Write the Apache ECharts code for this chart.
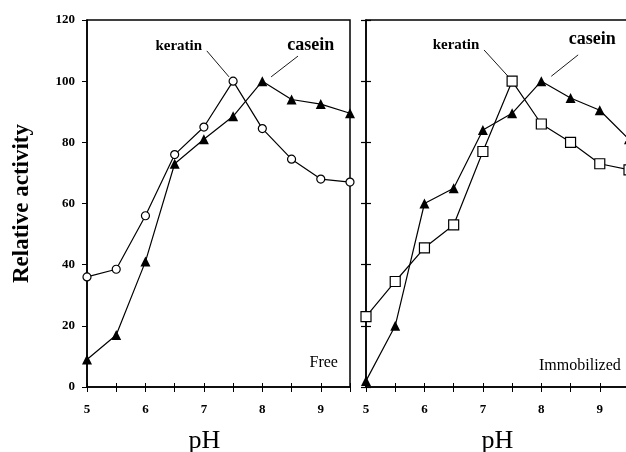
<!DOCTYPE html>
<html>
<head>
<meta charset="utf-8">
<script src="https://cdn.jsdelivr.net/npm/echarts@6/dist/echarts.min.js"></script>
<style>
  html, body { margin: 0; padding: 0; background: #fff; }
  #main { width: 626px; height: 452px; }
</style>
</head>
<body>
<div id="main"></div>
<script>
var phValues = [5, 5.5, 6, 6.5, 7, 7.5, 8, 8.5, 9, 9.5];
var freeKeratin = [36, 38.5, 56, 76, 85, 100, 84.5, 74.5, 68, 67];
var freeCasein = [9, 17, 41, 73, 81, 88.5, 100, 94, 92.5, 89.5];
var immKeratin = [23, 34.5, 45.5, 53, 77, 100, 86, 80, 73, 71];
var immCasein = [2, 20, 60, 65, 84, 89.5, 100, 94.5, 90.5, 81];

var font = "'Liberation Serif', 'Times New Roman', serif";

function pairs(ys) {
    return phValues.map(function (x, i) { return [x, ys[i]]; });
}

function connector(a, b) {
    return [{ coord: a }, { coord: b }];
}

function xAxisFor(idx, namePad) {
    return {
        type: 'value', gridIndex: idx, min: 5, max: 9.5, interval: 0.5,
        name: 'pH', nameLocation: 'middle', nameGap: 41,
        nameTextStyle: { fontFamily: font, fontSize: 26, color: '#000', padding: namePad },
        axisLine: { lineStyle: { color: '#000', width: 1.5 } },
        axisTick: { length: 5, lineStyle: { color: '#000', width: 1 } },
        axisLabel: {
            margin: 16, color: '#000', fontFamily: font, fontSize: 13, fontWeight: 'bold',
            formatter: function (v) { return v % 1 === 0 ? String(v) : ''; }
        },
        splitLine: { show: false }
    };
}

// inner half of the ticks that cross the axis line
function innerX(idx) {
    return {
        type: 'value', gridIndex: idx, min: 5, max: 9.5, interval: 0.5, position: 'bottom',
        axisLine: { show: false },
        axisTick: { inside: true, length: 4, lineStyle: { color: '#000', width: 1 } },
        axisLabel: { show: false }, splitLine: { show: false }
    };
}

function textPoint(idx, x, y, txt, size, weight) {
    return {
        type: 'scatter', xAxisIndex: idx, yAxisIndex: idx, symbolSize: 0,
        silent: true, z: 5,
        itemStyle: { opacity: 1 },
        data: [[x, y, txt]],
        label: {
            show: true, position: 'inside', color: '#000', opacity: 1,
            fontFamily: font, fontSize: size, fontWeight: weight,
            formatter: function (p) { return p.value[2]; }
        }
    };
}

var lineStyle = { color: '#000', width: 1.2 };
var markStyle = {
    symbol: ['none', 'none'], silent: true,
    lineStyle: { color: '#000', width: 0.9, type: 'solid' },
    label: { show: false }, emphasis: { disabled: true }
};

var chart = echarts.init(document.getElementById('main'));
chart.setOption({
    backgroundColor: '#fff',
    animation: false,
    grid: [
        { left: 87, top: 20, width: 263, height: 367, show: true, borderColor: '#000', borderWidth: 1.5,
          backgroundColor: 'transparent', containLabel: false, outerBoundsMode: 'none' },
        { left: 366, top: 20, width: 263, height: 367, show: true, borderColor: '#000', borderWidth: 1.5,
          backgroundColor: 'transparent', containLabel: false, outerBoundsMode: 'none' }
    ],
    xAxis: [xAxisFor(0, [0, 28, 0, 0]), xAxisFor(1, [0, 0, 0, 0]), innerX(0), innerX(1)],
    yAxis: [
        {
            type: 'value', gridIndex: 0, min: 0, max: 120, interval: 20,
            name: 'Relative activity', nameLocation: 'middle', nameGap: 53,
            nameTextStyle: { fontFamily: font, fontSize: 23, fontWeight: 'bold', color: '#000' },
            axisLine: { show: true, lineStyle: { color: '#000', width: 1.5 } },
            axisTick: { show: true, length: 5, lineStyle: { color: '#000' } },
            axisLabel: { margin: 12, color: '#000', fontFamily: font, fontSize: 13, fontWeight: 'bold' },
            splitLine: { show: false }
        },
        {
            type: 'value', gridIndex: 1, min: 0, max: 120, interval: 20,
            axisLine: { show: true, lineStyle: { color: '#000', width: 1.5 } },
            axisTick: { show: true, length: 5, lineStyle: { color: '#000', width: 1.2 } },
            axisLabel: { show: false },
            splitLine: { show: false }
        },
        {
            type: 'value', gridIndex: 1, min: 0, max: 120, interval: 20, position: 'left',
            axisLine: { show: false },
            axisTick: { show: true, inside: true, length: 5, lineStyle: { color: '#000', width: 1.2 } },
            axisLabel: { show: false },
            splitLine: { show: false }
        }
    ],
    series: [
        {
            name: 'Free keratin', type: 'line', xAxisIndex: 0, yAxisIndex: 0,
            data: pairs(freeKeratin), symbol: 'circle', symbolSize: 8, z: 3,
            lineStyle: lineStyle, itemStyle: { color: '#fff', borderColor: '#000', borderWidth: 1.2 },
            markLine: Object.assign({ data: [connector([7.05, 109.9], [7.43, 101.4])] }, markStyle)
        },
        {
            name: 'Free casein', type: 'line', xAxisIndex: 0, yAxisIndex: 0,
            data: pairs(freeCasein), symbol: 'triangle', symbolSize: 10, z: 4,
            lineStyle: lineStyle, itemStyle: { color: '#000' },
            markLine: Object.assign({ data: [connector([8.61, 108.2], [8.15, 101.4])] }, markStyle)
        },
        {
            name: 'Immobilized keratin', type: 'line', xAxisIndex: 1, yAxisIndex: 1,
            data: pairs(immKeratin), symbol: 'rect', symbolSize: 10, z: 3,
            lineStyle: lineStyle, itemStyle: { color: '#fff', borderColor: '#000', borderWidth: 1.2 },
            markLine: Object.assign({ data: [connector([7.02, 110.2], [7.43, 101.6])] }, markStyle)
        },
        {
            name: 'Immobilized casein', type: 'line', xAxisIndex: 1, yAxisIndex: 1,
            data: pairs(immCasein), symbol: 'triangle', symbolSize: 10, z: 4,
            lineStyle: lineStyle, itemStyle: { color: '#000' },
            markLine: Object.assign({ data: [connector([8.63, 108.6], [8.17, 101.6])] }, markStyle)
        },
        textPoint(0, 6.57, 111.5, 'keratin', 15, 'bold'),
        textPoint(0, 8.83, 111.8, 'casein', 18, 'bold'),
        textPoint(0, 9.05, 7.8, 'Free', 16, 'normal'),
        textPoint(1, 6.54, 111.8, 'keratin', 15, 'bold'),
        textPoint(1, 8.87, 113.8, 'casein', 18, 'bold'),
        textPoint(1, 8.66, 6.9, 'Immobilized', 16, 'normal')
    ]
});
</script>
</body>
</html>
